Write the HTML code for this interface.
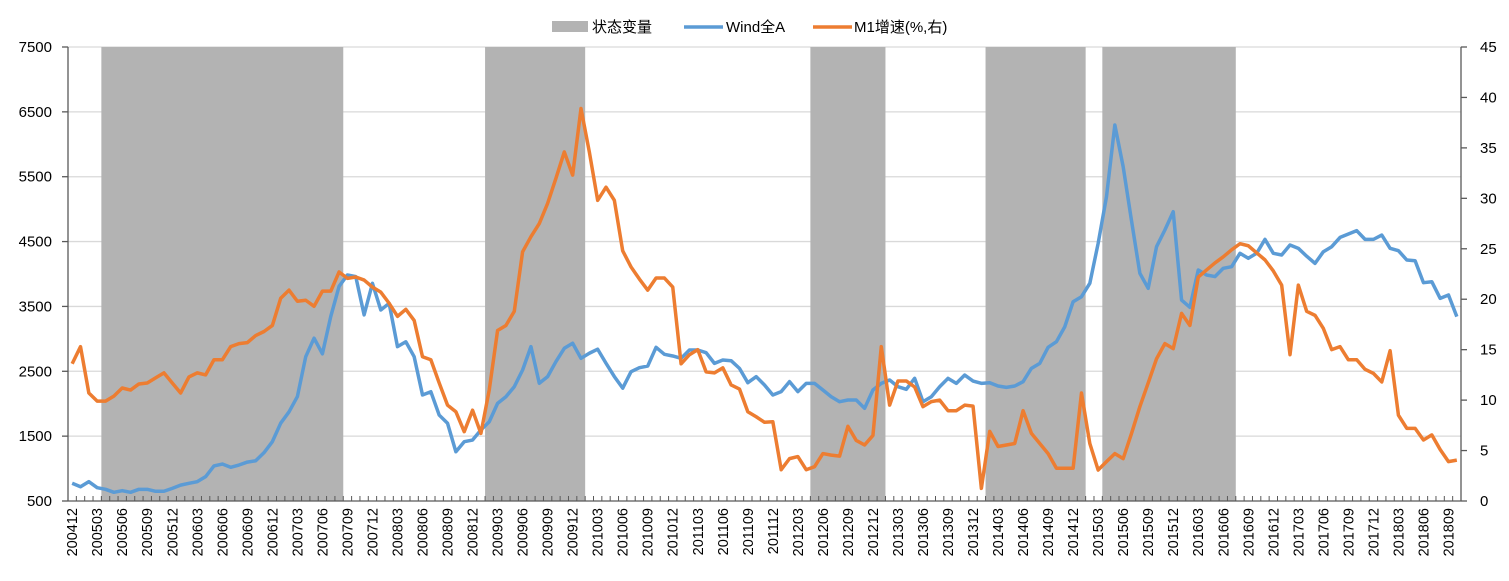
<!DOCTYPE html>
<html><head><meta charset="utf-8">
<style>
html,body{margin:0;padding:0;background:#fff;}
svg text{font-family:"Liberation Sans","Noto Sans CJK SC",sans-serif;fill:#000;}
</style></head>
<body>
<svg id="chart" width="1509" height="576" xmlns="http://www.w3.org/2000/svg"></svg>
<script>
const startYear = 2004, startMonth = 12;
const windA = [773,720,798,705,680,634,659,634,680,680,650,650,695,745,773,798,875,1040,1070,1020,1055,1100,1120,1245,1415,1700,1875,2110,2725,3010,2770,3345,3810,
3985,3960,3370,3856,3445,3548,2880,2955,2725,2135,2185,1825,1698,1260,1414,1440,1595,1722,2005,2108,2262,2520,2880,2315,2418,2650,2855,2932,2700,2778,2840,2624,2418,2240,
2494,2555,2581,2870,2762,2736,2700,2828,2828,2787,2622,2674,2663,2545,2324,2417,2289,2134,2186,2340,2186,2314,2314,2211,2108,2031,2057,2057,1929,2211,2314,2366,2262,2222,
2392,2031,2108,2262,2391,2314,2442,2350,2314,2324,2273,2252,2273,2340,2545,2622,2870,2956,3187,3573,3650,3856,4473,5192,6297,5654,4821,4011,3779,4421,4678,4960,3599,3486,4062,
3985,3960,4088,4113,4319,4242,4319,4534,4319,4293,4447,4396,4274,4164,4344,4421,4564,4616,4668,4534,4534,4601,4396,4360,4216,4205,3866,3881,3625,3677,3342];
const m1 = [13.6,15.3,10.7,9.9,9.9,10.4,11.2,11.0,11.6,11.7,12.2,12.7,11.7,10.7,12.3,12.7,12.5,14.0,14.0,15.3,15.6,15.7,16.4,16.8,17.4,20.1,20.9,19.8,19.9,19.3,20.8,20.8,22.7,
22.07,22.2,21.9,21.2,20.7,19.6,18.3,19.0,17.9,14.3,14.0,11.7,9.5,8.85,6.87,9.0,6.7,11.0,16.9,17.4,18.8,24.7,26.2,27.5,29.5,32.0,34.6,32.3,38.9,34.6,29.8,31.1,29.8,
24.8,23.2,22.0,20.9,22.1,22.1,21.2,13.6,14.5,15.0,12.8,12.7,13.2,11.5,11.1,8.85,8.35,7.8,7.85,3.1,4.2,4.4,3.1,3.4,4.7,4.55,4.45,7.4,6.0,5.55,6.5,15.3,9.5,11.9,11.9,11.3,
9.35,9.85,10.0,8.95,8.95,9.5,9.4,1.25,6.9,5.4,5.55,5.7,8.95,6.7,5.7,4.7,3.25,3.25,3.25,10.7,5.7,3.07,3.9,4.7,4.2,6.7,9.35,11.7,14.1,15.6,15.1,18.6,17.4,22.2,
22.9,23.6,24.2,24.9,25.5,25.3,24.6,23.9,22.8,21.4,14.5,21.4,18.8,18.4,17.1,15.0,15.3,14.0,14.0,13.05,12.65,11.8,14.9,8.5,7.2,7.2,6.05,6.55,5.1,3.9,4.05];
const stateStart = ["200504","200902","201205","201402","201504"];
const stateEnd = ["200708","201001","201301","201501","201607"];
const leftTicks = [500,1500,2500,3500,4500,5500,6500,7500];
const rightTicks = [0,5,10,15,20,25,30,35,40,45];

const NS="http://www.w3.org/2000/svg";
const svg=document.getElementById('chart');
function mk(tag,attrs,parent){const e=document.createElementNS(NS,tag);for(const k in attrs)e.setAttribute(k,attrs[k]);(parent||svg).appendChild(e);return e;}
const N=windA.length;
const PL=68,PR=1461,PT=47,PB=501;
const cw=(PR-PL)/N;
const labels=[];
for(let i=0;i<N;i++){let m=startMonth-1+i;let y=startYear+Math.floor(m/12);let mm=m%12+1;labels.push(''+y+(mm<10?'0':'')+mm);}
const xC=i=>PL+(i+0.5)*cw;
const yL=v=>PB-(v-500)/7000*(PB-PT);
const yR=v=>PB-v/45*(PB-PT);

// gridlines
leftTicks.forEach(t=>{if(t===500)return;
 const g=mk('line',{x1:PL,x2:PR,y1:yL(t),y2:yL(t),stroke:'#d9d9d9','stroke-width':1.3});
 
 });
// shaded states
for(let k=0;k<stateStart.length;k++){
 const a=labels.indexOf(stateStart[k]),b=labels.indexOf(stateEnd[k]);
 const r=mk('rect',{x:PL+a*cw,y:PT,width:(b-a+1)*cw,height:PB-PT,fill:'#b3b3b3'});
 
 
}
// axes
const ax=mk('line',{x1:PL,x2:PL,y1:PT,y2:PB,stroke:'#595959','stroke-width':1.3});


const ax2=mk('line',{x1:PR,x2:PR,y1:PT,y2:PB,stroke:'#595959','stroke-width':1.3});


const ax3=mk('line',{x1:PL,x2:PR,y1:PB,y2:PB,stroke:'#595959','stroke-width':1.3});


leftTicks.forEach(t=>{
 mk('line',{x1:PL-6,x2:PL,y1:yL(t),y2:yL(t),stroke:'#595959','stroke-width':1.3});
 const tx=mk('text',{x:52,y:yL(t)+5,'text-anchor':'end','font-size':15});
 tx.textContent=t;
 
 
});
rightTicks.forEach(t=>{
 mk('line',{x1:PR,x2:PR+6,y1:yR(t),y2:yR(t),stroke:'#595959','stroke-width':1.3});
 const tx=mk('text',{x:1480,y:yR(t)+5,'text-anchor':'start','font-size':15});
 tx.textContent=t;
 
 
});
for(let i=0;i<=N;i++){mk('line',{x1:PL+i*cw,x2:PL+i*cw,y1:PB-5,y2:PB,stroke:'#595959','stroke-width':1});}
for(let i=0;i<N;i+=3){
 const x=xC(i)+5;
 const tx=mk('text',{x:x,y:508,'text-anchor':'end','font-size':14.5,transform:'rotate(-90 '+x+' 508)'});
 tx.textContent=labels[i];
 
 
}
// series
const pb=mk('polyline',{points:windA.map((v,i)=>xC(i)+','+yL(v)).join(' '),fill:'none',stroke:'#5b9bd5','stroke-width':3.5,'stroke-linejoin':'round'});


const po=mk('polyline',{points:m1.map((v,i)=>xC(i)+','+yR(v)).join(' '),fill:'none',stroke:'#ed7d31','stroke-width':3.5,'stroke-linejoin':'round'});


</script>
<svg style="position:absolute;left:0;top:0" width="1509" height="45">
 <g>
  <rect x="552" y="21" width="36" height="11" fill="#b3b3b3"/>
  <text x="592" y="32" font-size="15" style="font-family:'Liberation Sans','Noto Sans CJK SC',sans-serif">状态变量</text>
 </g>
 <g>
  <line x1="684" y1="27" x2="723" y2="27" stroke="#5b9bd5" stroke-width="3.5"/>
  <text x="726" y="32" font-size="15" style="font-family:'Liberation Sans','Noto Sans CJK SC',sans-serif">Wind全A</text>
 </g>
 <g>
  <line x1="813" y1="27" x2="852" y2="27" stroke="#ed7d31" stroke-width="3.5"/>
  <text x="854" y="32" font-size="15" style="font-family:'Liberation Sans','Noto Sans CJK SC',sans-serif">M1增速(%,右)</text>
 </g>
</svg>
</body></html>
